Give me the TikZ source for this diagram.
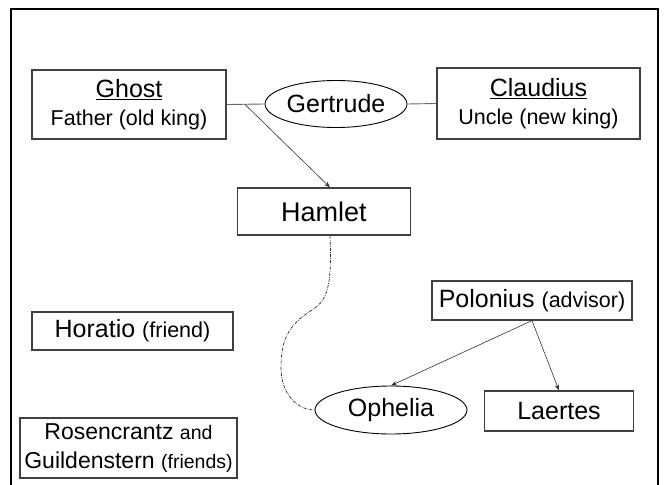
\documentclass[tikz,border=0pt]{standalone}
\usepackage{fontspec}
\setmainfont{Liberation Sans}
\usetikzlibrary{shapes.geometric,arrows.meta,calc}
\begin{document}
\begin{tikzpicture}[x=1pt,y=-1pt,
  box/.style={draw=black!75,line width=1.2pt,rectangle,inner sep=0pt,align=center},
  oval/.style={draw=black,line width=0.9pt,ellipse,inner sep=0pt},
  link/.style={draw=black!60,line width=0.9pt},
  arr/.style={draw=black!80,line width=0.6pt,-{Stealth[length=6pt,width=4.5pt]}},
  dd/.style={draw=black!85,line width=0.7pt,dash pattern=on 3pt off 1.2pt on 0.8pt off 1.2pt},
  nm/.style={font=\fontsize{25}{28}\selectfont},
  hm/.style={font=\fontsize{27}{30}\selectfont},
  rgf/.style={font=\fontsize{23}{29}\selectfont},
]
\newcommand{\sm}[1]{{\fontsize{21.5}{28}\selectfont #1}}
\newcommand{\smr}[1]{{\fontsize{19.5}{29}\selectfont #1}}
\useasboundingbox (0,0) rectangle (665,485);
\draw[line width=2.5pt] (11,495) -- (11,9) -- (658,9) -- (658,495);

\node[box,nm,minimum width=194pt,minimum height=69pt] (ghost) at (129,104.5)
  {\underline{Ghost}\\\sm{Father (old king)}};
\node[box,nm,minimum width=203pt,minimum height=71pt] (claud) at (538.5,103.5)
  {\underline{Claudius}\\\sm{Uncle (new king)}};
\node[oval,nm,minimum width=142pt,minimum height=47pt] (gert) at (336,104) {Gertrude};
\node[box,hm,minimum width=173pt,minimum height=47pt] (hamlet) at (324,211.5) {Hamlet};
\node[box,nm,minimum width=200pt,minimum height=39pt] (pol) at (532,300.5)
  {Polonius \sm{(advisor)}};
\node[box,nm,minimum width=201pt,minimum height=38pt] (hor) at (132.5,331)
  {Horatio \sm{(friend)}};
\node[oval,nm,minimum width=152pt,minimum height=48pt] (oph) at (391,410) {Ophelia};
\node[box,nm,minimum width=149pt,minimum height=40pt] (laer) at (559,411) {Laertes};
\node[box,rgf,minimum width=217pt,minimum height=60pt] (rg) at (128.5,448)
  {Rosencrantz \smr{and}\\Guildenstern \smr{(friends)}};

\draw[link] (ghost.east) -- (gert.west);
\draw[link] (gert.east) -- (claud.west);
\coordinate (gg) at ($(ghost.east)!0.48!(gert.west)$);
\draw[arr] (gg) -- ($(hamlet.north)+(6,0)$);
\draw[dd] ($(hamlet.south)+(6,0)$) .. controls (332,285) and (328,300) .. (312,310)
  .. controls (288,325) and (281,340) .. (281,368)
  .. controls (281,395) and (298,410) .. (oph.west);
\draw[arr] (pol.south) -- (oph.north);
\draw[arr] (pol.south) -- (laer.north);
\end{tikzpicture}
\end{document}
